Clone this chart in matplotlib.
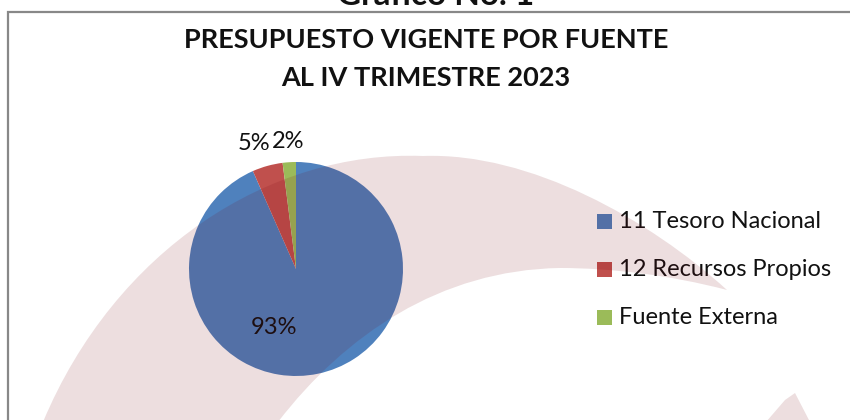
import matplotlib
matplotlib.use("Agg")
import matplotlib.pyplot as plt
from matplotlib.path import Path
from matplotlib.patches import PathPatch, Polygon

plt.rcParams['font.family'] = ['Lato', 'DejaVu Sans']

# data
fuentes = ['11 Tesoro Nacional', '12 Recursos Propios', 'Fuente Externa']
porcentajes = [93.4, 4.6, 2.0]
colores = ['#4F81BD', '#C0504D', '#9BBB59']

titulo = 'PRESUPUESTO VIGENTE POR FUENTE\nAL IV TRIMESTRE 2023'
grafico = 'Gráfico No. 1'

W, H = 850, 420
fig = plt.figure(figsize=(W / 100, H / 100), dpi=100)
fig.patch.set_facecolor('white')

# pie axes: centre (296, 269) px, radius 107 px
cx, cy, r = 296, 269, 107
ax = fig.add_axes([(cx - r) / W, (H - cy - r) / H, 2 * r / W, 2 * r / H])
wedges, _, autotexts = ax.pie(porcentajes, colors=colores, startangle=90, counterclock=False,
                              autopct='%.0f%%', textprops={'fontsize': 17, 'color': '#111111'},
                              wedgeprops={'linewidth': 0})
ax.set_xlim(-1, 1)
ax.set_ylim(-1, 1)
ax.set_aspect('equal')
ax.axis('off')

# label positions as excel places them
for t, pos in zip(autotexts, [(-0.21, -0.55), (-0.39, 1.17), (-0.07, 1.19)]):
    t.set_position(pos)
    t.set_clip_on(False)
    t.set_zorder(10)

# overlay axes in pixel coords for frame, titles and watermark
ov = fig.add_axes([0, 0, 1, 1], facecolor='none')
ov.set_xlim(0, W)
ov.set_ylim(H, 0)
ov.axis('off')

# frame
ov.plot([8, 8, W + 5], [H + 5, 12, 12], color='#888888', lw=1.6, solid_joinstyle='miter')

ov.text(436, 5, grafico, ha='center', va='baseline', fontsize=24, fontweight='bold', color='#111111')
ov.text(426, 59, titulo, ha='center', va='center', fontsize=19.5, fontweight='bold',
        color='#111111', linespacing=1.75)

# legend
for i, (lab, col) in enumerate(zip(fuentes, colores)):
    y = 221 + 48 * i
    ov.add_patch(plt.Rectangle((597, y - 7.5), 15, 15, color=col, lw=0))
    ov.text(619, y + 1, lab, ha='left', va='center', fontsize=17, color='#111111')

# watermark swoosh
verts = [(43, 422), (115, 250), (270, 150), (423, 156),
         (530, 152), (650, 220), (727, 290),
         (670, 275), (610, 268), (560, 268),
         (440, 270), (345, 335), (278, 422),
         (43, 422)]
codes = [Path.MOVETO] + [Path.CURVE4] * 12 + [Path.CLOSEPOLY]
ov.add_patch(PathPatch(Path(verts, codes), facecolor='#75000E', alpha=0.13, lw=0, zorder=5))
ov.add_patch(Polygon([(766, 422), (785, 400), (795, 393), (810, 422)], closed=True,
                     facecolor='#75000E', alpha=0.13, lw=0, zorder=5))

fig.savefig('out.png', dpi=100)
